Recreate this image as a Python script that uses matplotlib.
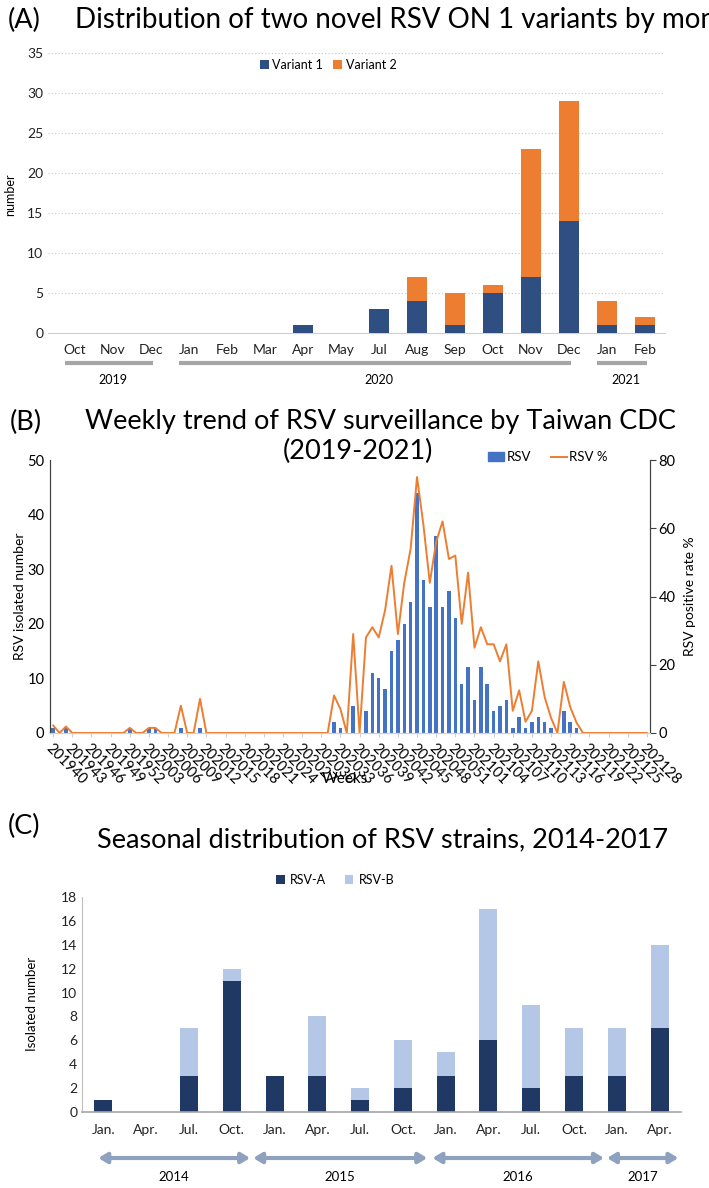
import matplotlib
matplotlib.use("Agg")
import matplotlib.pyplot as plt
import matplotlib.transforms as mtransforms
from matplotlib.patches import Patch
from matplotlib.lines import Line2D

plt.rcParams['font.family'] = ['Lato', 'DejaVu Sans']

# ---- panel A data ----
months_a = ["Oct", "Nov", "Dec", "Jan", "Feb", "Mar", "Apr", "May", "Jul",
            "Aug", "Sep", "Oct", "Nov", "Dec", "Jan", "Feb"]
variant1 = [0, 0, 0, 0, 0, 0, 1, 0, 3, 4, 1, 5, 7, 14, 1, 1]
variant2 = [0, 0, 0, 0, 0, 0, 0, 0, 0, 3, 4, 1, 16, 15, 3, 1]
years_a = ["2019", "2020", "2021"]
year_spans_a = [(0, 2), (3, 13), (14, 15)]

# ---- panel B data (201940 .. 202128, 94 weeks) ----
week_ticks = ["201940", "201943", "201946", "201949", "201952", "202003",
              "202006", "202009", "202012", "202015", "202018", "202021",
              "202024", "202027", "202030", "202033", "202036", "202039",
              "202042", "202045", "202048", "202051", "202101", "202104",
              "202107", "202110", "202113", "202116", "202119", "202122",
              "202125", "202128"]
rsv_count = [1, 0, 1, 0, 0, 0, 0, 0, 0, 0, 0, 0, 1, 0, 0, 1, 1, 0, 0, 0,
             1, 0, 0, 1, 0, 0, 0, 0, 0, 0, 0, 0, 0, 0, 0, 0, 0, 0, 0, 0,
             0, 0, 0, 0, 2, 1, 0, 5, 0, 4, 11, 10, 8, 15, 17, 20, 24, 44, 28, 23,
             36, 23, 26, 21, 9, 12, 6, 12, 9, 4, 5, 6, 1, 3, 1, 2, 3, 2, 1, 0,
             4, 2, 1, 0, 0, 0, 0, 0, 0, 0, 0, 0, 0, 0]
rsv_pct = [2.2, 0, 1.9, 0, 0, 0, 0, 0, 0, 0, 0, 0, 1.5, 0, 0, 1.5, 1.5, 0, 0, 0,
           8, 0, 0, 10, 0, 0, 0, 0, 0, 0, 0, 0, 0, 0, 0, 0, 0, 0, 0, 0,
           0, 0, 0, 0, 11, 7, 0, 29, 0, 28, 31, 28, 36, 49, 29, 44, 54, 75, 61, 44,
           56, 62, 51, 52, 32, 47, 25, 31, 26, 26, 21, 26, 6.5, 12.5, 3.3, 6.5, 21, 10.5, 4.4, 0,
           15, 7.6, 3, 0, 0, 0, 0, 0, 0, 0, 0, 0, 0, 0]

# ---- panel C data ----
months_c = ["Jan.", "Apr.", "Jul.", "Oct.", "Jan.", "Apr.", "Jul.", "Oct.",
            "Jan.", "Apr.", "Jul.", "Oct.", "Jan.", "Apr."]
rsv_a = [1, 0, 3, 11, 3, 3, 1, 2, 3, 6, 2, 3, 3, 7]
rsv_b = [0, 0, 4, 1, 0, 5, 1, 4, 2, 11, 7, 4, 4, 7]
years_c = ["2014", "2015", "2016", "2017"]
year_spans_c = [(-0.12, 3.43), (3.5, 7.57), (7.69, 11.7), (11.77, 13.44)]

W, H = 709, 1188
fig = plt.figure(figsize=(W / 100, H / 100), dpi=100)


def box(x0, y_top, x1, y_bot):
    return [x0 / W, 1 - y_bot / H, (x1 - x0) / W, (y_bot - y_top) / H]


def ftext(x, y, s, **kw):
    fig.text(x / W, 1 - y / H, s, **kw)


# ================= Panel A =================
axA = fig.add_axes(box(48, 53, 665, 333))
xa = list(range(len(months_a)))
axA.bar(xa, variant1, width=0.52, color='#2F4F82', label='Variant 1', zorder=3)
axA.bar(xa, variant2, width=0.52, bottom=variant1, color='#ED7D31',
        label='Variant 2', zorder=3)
axA.set_xlim(-0.71, 15.53)
axA.set_ylim(0, 35)
axA.set_yticks(range(0, 36, 5))
axA.yaxis.grid(True, linestyle=(0, (1, 2)), color='#C8C8C8', lw=0.8)
axA.set_axisbelow(True)
for s in ['top', 'right', 'left']:
    axA.spines[s].set_visible(False)
axA.spines['bottom'].set_color('#D0D0D0')
axA.set_xticks(xa)
axA.set_xticklabels(months_a, fontsize=10)
axA.tick_params(axis='both', length=0, labelsize=10, colors='#222222')
axA.tick_params(axis='x', pad=8)
axA.legend(loc='center', bbox_to_anchor=(328 / W, 1 - 65 / H),
           bbox_transform=fig.transFigure, ncol=2, frameon=False, fontsize=9,
           handlelength=0.7, handleheight=0.7, columnspacing=0.8,
           handletextpad=0.3)
trA = mtransforms.blended_transform_factory(axA.transData, axA.transAxes)
for yr, (a, b) in zip(years_a, year_spans_a):
    axA.plot([a - 0.25, b + 0.05], [-0.107, -0.107], transform=trA,
             clip_on=False, color='#A6A6A6', lw=3, solid_capstyle='butt')
    axA.text((a + b) / 2, -0.168, yr, transform=trA, ha='center',
             va='center', fontsize=9)
ftext(10, 195, 'number', rotation=90, ha='center', va='center', fontsize=9)
ftext(8, 20, '(A)', fontsize=19.5, va='center')
ftext(75, 20, 'Distribution of two novel RSV ON 1 variants by month',
      fontsize=20, va='center')

# ================= Panel B =================
axB = fig.add_axes(box(50, 460, 650, 733))
xb = list(range(len(rsv_count)))
axB.bar(xb, rsv_count, width=0.55, color='#4472C4', zorder=2)
axB2 = axB.twinx()
axB2.plot(xb, rsv_pct, color='#ED7D31', lw=1.4, zorder=3)
axB.set_xlim(-0.5, len(rsv_count) - 0.5)
axB.set_ylim(0, 50)
axB2.set_ylim(0, 80)
axB.set_yticks(range(0, 51, 10))
axB2.set_yticks(range(0, 81, 20))
for a in (axB, axB2):
    a.spines['top'].set_visible(False)
    a.spines['bottom'].set_color('#D0D0D0')
    a.spines['left'].set_color('#404040')
    a.spines['right'].set_color('#404040')
axB.tick_params(axis='y', length=0, labelsize=10.5, pad=4)
axB2.tick_params(axis='y', length=4, labelsize=10.5, color='#404040', pad=2)
axB.set_xticks(range(0, len(rsv_count), 3))
axB.set_xticklabels(week_ticks, rotation=-45, ha='left', va='top',
                    rotation_mode='anchor', fontsize=10.5)
axB.tick_params(axis='x', length=3, color='#D0D0D0', pad=3)
ftext(20, 596, 'RSV isolated number', rotation=90, ha='center', va='center',
      fontsize=10)
ftext(690, 596, 'RSV positive rate %', rotation=90, ha='center', va='center',
      fontsize=10)
ftext(345, 779, 'Weeks', ha='center', va='center', fontsize=11)
ftext(10, 422, '(B)', fontsize=19.5, va='center')
ftext(380, 422, 'Weekly trend of RSV surveillance by Taiwan CDC',
      fontsize=19.5, ha='center', va='center')
ftext(358, 451, '(2019-2021)', fontsize=19.5, ha='center', va='center')
handlesB = [Patch(color='#4472C4'), Line2D([0], [0], color='#ED7D31', lw=1.4)]
fig.legend(handlesB, ['RSV', 'RSV %'], loc='center',
           bbox_to_anchor=(548 / W, 1 - 457 / H), ncol=2, frameon=False,
           fontsize=9.5, handlelength=1.2, handleheight=0.6,
           columnspacing=1.5, handletextpad=0.2)

# ================= Panel C =================
axC = fig.add_axes(box(82, 897, 681, 1112))
xc = list(range(len(months_c)))
axC.bar(xc, rsv_a, width=0.42, color='#203864', label='RSV-A')
axC.bar(xc, rsv_b, width=0.42, bottom=rsv_a, color='#B4C7E7', label='RSV-B')
axC.set_xlim(-0.5, 13.5)
axC.set_ylim(0, 18)
axC.set_yticks(range(0, 19, 2))
for s in ['top', 'right']:
    axC.spines[s].set_visible(False)
axC.spines['bottom'].set_color('#A6A6A6')
axC.spines['bottom'].set_linewidth(1.2)
axC.spines['left'].set_color('#BFBFBF')
axC.set_xticks(xc)
axC.set_xticklabels(months_c)
axC.tick_params(axis='both', length=0, labelsize=10, colors='#222222')
axC.tick_params(axis='x', pad=9)
axC.legend(loc='center', bbox_to_anchor=(335 / W, 1 - 880 / H),
           bbox_transform=fig.transFigure, ncol=2, frameon=False, fontsize=9,
           handlelength=0.7, handleheight=0.7, columnspacing=1.5,
           handletextpad=0.4)
trC = mtransforms.blended_transform_factory(axC.transData, axC.transAxes)
for yr, (a, b) in zip(years_c, year_spans_c):
    axC.annotate('', xy=(b, -0.214), xytext=(a, -0.214), xycoords=trC,
                 textcoords=trC, annotation_clip=False,
                 arrowprops=dict(arrowstyle='<|-|>,head_length=0.5,head_width=0.3',
                                 color='#8EA2BF', lw=3, shrinkA=0, shrinkB=0))
    axC.text((a + b) / 2, -0.302, yr, transform=trC, ha='center', va='center',
             fontsize=9.5)
ftext(32, 1004, 'Isolated number', rotation=90, ha='center', va='center',
      fontsize=9.5)
ftext(8, 826, '(C)', fontsize=19.5, va='center')
ftext(383, 840, 'Seasonal distribution of RSV strains, 2014-2017',
      fontsize=19.5, ha='center', va='center')

fig.savefig('out.png', dpi=100)
